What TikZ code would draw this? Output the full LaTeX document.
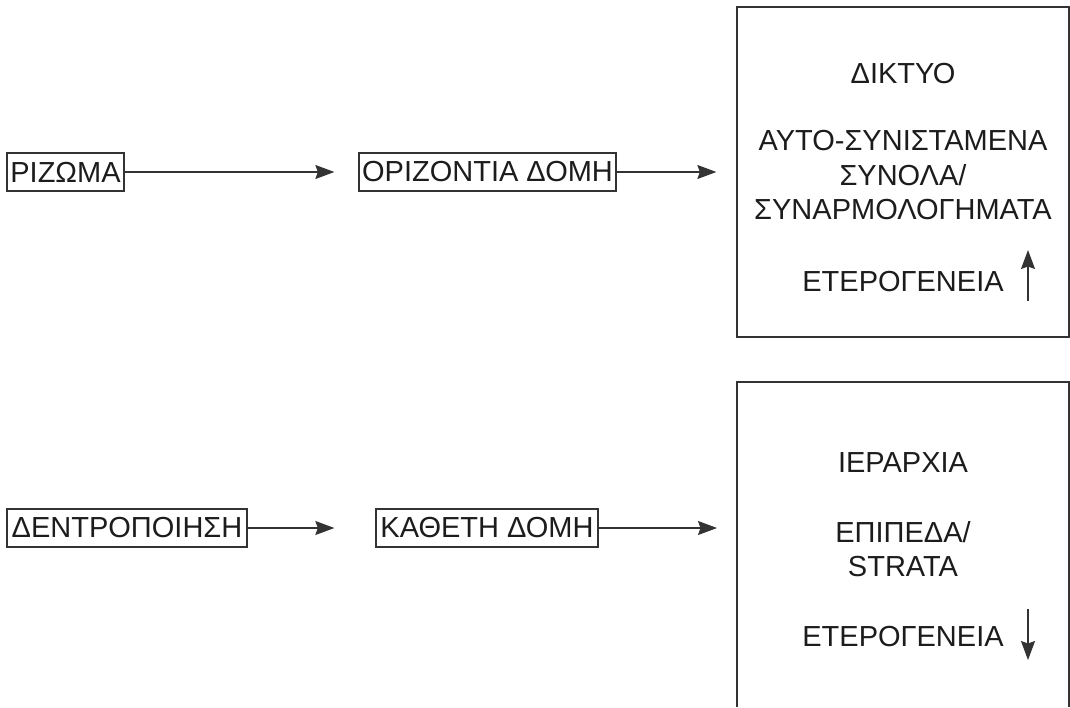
\documentclass[tikz,border=0pt]{standalone}
\usepackage{fontspec}
\setmainfont{Liberation Sans}
\usetikzlibrary{arrows.meta}
\definecolor{lncol}{HTML}{333333}
\definecolor{txtcol}{HTML}{1C1C1C}
\begin{document}
\begin{tikzpicture}[x=1pt,y=-1pt,
  every node/.style={font=\fontsize{29}{34}\selectfont, text=txtcol},
  lbox/.style={draw=lncol, line width=1.3pt, minimum height=38pt, inner xsep=0pt, inner ysep=0pt},
  bigbox/.style={draw=lncol, line width=1.3pt},
  conn/.style={draw=lncol, line width=1.2pt, -{Stealth[length=19pt,width=14pt,inset=2.5pt]}},
  txtline/.style={anchor=base, inner sep=0pt}]
\useasboundingbox (0,0) rectangle (1070,707);

% left column boxes
\node[lbox, minimum width=117pt] (riz) at (65.5,172) {ΡΙΖΩΜΑ};
\node[lbox, minimum width=257pt] (od) at (487.5,172) {ΟΡΙΖΟΝΤΙΑ ΔΟΜΗ};
\node[lbox, minimum width=240pt] (dent) at (127,528) {ΔΕΝΤΡΟΠΟΙΗΣΗ};
\node[lbox, minimum width=222pt] (kd) at (487,528) {ΚΑΘΕΤΗ ΔΟΜΗ};

% right boxes
\node[bigbox, minimum width=332pt, minimum height=330pt, inner sep=0pt] (net) at (903,172) {};
\draw[bigbox] (737,707) -- (737,382) -- (1069,382) -- (1069,707);
\coordinate (hierw) at (737,528);

% texts in top box
\node[txtline] (t1) at (903,83.4) {ΔΙΚΤΥΟ};
\node[txtline] (t2) at (903,150.4) {ΑΥΤΟ-ΣΥΝΙΣΤΑΜΕΝΑ};
\node[txtline] (t3) at (903,185.4) {ΣΥΝΟΛΑ/};
\node[txtline] (t4) at (903,219.4) {ΣΥΝΑΡΜΟΛΟΓΗΜΑΤΑ};
\node[txtline] (t5) at (903,291.4) {ΕΤΕΡΟΓΕΝΕΙΑ};

% texts in bottom box
\node[txtline] (b1) at (903,472.4) {ΙΕΡΑΡΧΙΑ};
\node[txtline] (b2) at (903,542.4) {ΕΠΙΠΕΔΑ/};
\node[txtline] (b3) at (903,576.4) {STRATA};
\node[txtline] (b4) at (903,646.4) {ΕΤΕΡΟΓΕΝΕΙΑ};

% connectors
\draw[conn, shorten >=24pt] (riz.east) -- (od.west);
\draw[conn, shorten >=20pt] (od.east) -- (net.west);
\draw[conn, shorten >=41pt] (dent.east) -- (kd.west);
\draw[conn, shorten >=20pt] (kd.east) -- (hierw);

% vertical arrows
\coordinate (upS) at (1028,301);
\coordinate (upE) at (1028,250);
\coordinate (dnS) at (1028,609);
\coordinate (dnE) at (1028,660);
\draw[conn] (upS) -- (upE);
\draw[conn] (dnS) -- (dnE);
\end{tikzpicture}
\end{document}
